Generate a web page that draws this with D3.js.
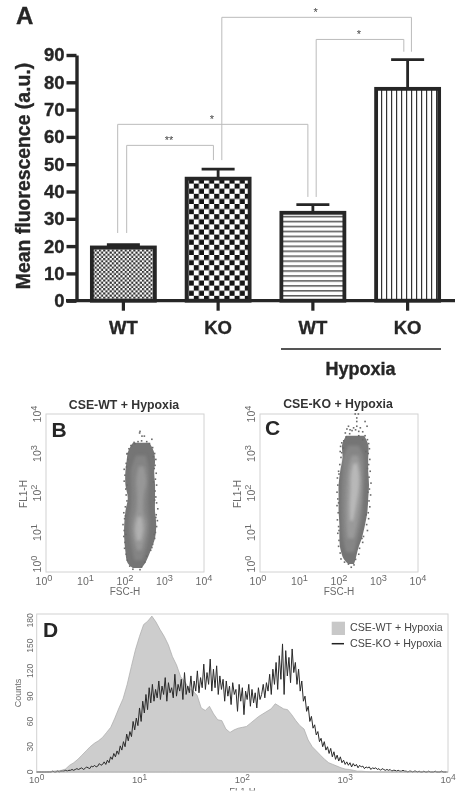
<!DOCTYPE html>
<html><head><meta charset="utf-8">
<style>html,body{margin:0;padding:0;background:#fff}svg{display:block;font-family:"Liberation Sans",Arial,sans-serif;filter:blur(.35px)}</style>
<script src="https://cdn.jsdelivr.net/npm/d3@7/dist/d3.min.js"></script></head><body>
<script>
// ---------- Panel A ----------
const barLabels=["WT","KO","WT","KO"];
const barValues=[19.5,44.7,32.2,77.6];
const barErrTop=[20.5,48.2,35.2,88.3];
const barPatterns=["fineCheck","bigCheck","hLines","vLines"];
const yTicksA=[0,10,20,30,40,50,60,70,80,90];
const bracketFrom=[0,0,1,2], bracketTo=[1,2,3,3];
const bracketFootL=[24.8,24.8,51.5,38], bracketFootR=[51.5,38,91.2,91.2];
const bracketTop=[56.9,64.6,103.8,95.7];
const bracketMark=["**","*","*","*"];
// ---------- Panels B, C : cloud outlines as exponents of FSC-H / FL1-H ----------
const decadeTicks=[0,1,2,3,4];
const bOuterY=[.1,.24,.52,.86,1.2,1.54,1.87,2.21,2.55,2.8,3.05,3.27];
const bOuterL=[2.2,2.06,2.01,1.98,1.98,2.01,2.07,2.01,2.01,2.04,2.08,2.2];
const bOuterR=[2.42,2.52,2.64,2.76,2.79,2.76,2.76,2.76,2.74,2.76,2.73,2.62];
const bMidY=[.3,.7,1.2,1.7,2.2,2.6,2.95];
const bMidL=[2.24,2.15,2.1,2.16,2.16,2.16,2.28];
const bMidR=[2.44,2.56,2.62,2.58,2.6,2.6,2.52];
const bCoreY=[.55,.95,1.25,1.55,1.95,2.3,2.68];
const bCoreL=[2.3,2.2,2.2,2.28,2.3,2.28,2.34];
const bCoreR=[2.42,2.52,2.54,2.47,2.48,2.54,2.48];
const bLightY=[.8,1.1,1.4];
const bLightL=[2.3,2.26,2.32];
const bLightR=[2.4,2.46,2.42];
const bSpeck=[[2.38,3.56],[2.37,3.52],[2.43,3.44],[2.49,3.44],[2.68,3.36],[2.23,3.28],[2.15,3.2],[2.05,2.99],[2.06,3.0],[2.1,3.12],[2.17,3.2],[2.25,3.25],[2.33,3.3],[2.42,3.32],[2.55,3.3],[2.62,3.25],[2.7,3.15],[2.75,3.0],[2.78,2.85],[2.76,2.7],[2.79,2.5],[2.77,2.35],[2.8,2.2],[2.76,2.05],[2.78,1.9],[2.8,1.75],[2.83,1.6],[2.79,1.45],[2.82,1.3],[2.8,1.15],[2.77,1.0],[2.75,.85],[2.7,.7],[2.65,.55],[2.55,.4],[2.5,.25],[2.42,.13],[2.38,.06],[2.2,.07],[2.12,.15],[2.06,.3],[2.03,.45],[1.99,.6],[2.0,.75],[1.97,.9],[1.98,1.05],[1.95,1.2],[1.99,1.35],[1.97,1.5],[2.01,1.65],[2.05,1.8],[2.03,1.95],[2.02,2.1],[1.98,2.3],[2.0,2.45],[1.98,2.6],[2.03,2.75],[2.07,2.85],[2.72,2.92],[2.74,2.62],[2.72,2.28],[2.75,1.82],[2.78,1.38],[2.74,.95],[2.68,.62],[2.02,.95],[2.01,1.42],[2.05,2.2],[2.04,2.66]];
const cOuterY=[.2,.33,.61,.86,1.2,1.54,1.87,2.21,2.55,2.89,3.22,3.45];
const cOuterL=[2.24,2.12,2.03,2.01,2.01,1.99,1.99,1.99,2.03,2.09,2.08,2.18];
const cOuterR=[2.38,2.42,2.49,2.58,2.66,2.72,2.74,2.76,2.74,2.74,2.74,2.64];
const cMidY=[.5,.9,1.4,2.0,2.5,2.9,3.2];
const cMidL=[2.18,2.1,2.07,2.07,2.09,2.12,2.24];
const cMidR=[2.38,2.48,2.58,2.62,2.64,2.62,2.5];
const cCoreY=[.85,1.3,1.8,2.3,2.67,2.95];
const cCoreL=[2.22,2.18,2.18,2.2,2.24,2.32];
const cCoreR=[2.38,2.48,2.55,2.57,2.55,2.48];
const cLightY=[1.3,1.7,2.1,2.45,2.75];
const cLightL=[2.28,2.27,2.29,2.3,2.36];
const cLightR=[2.36,2.44,2.5,2.51,2.46];
const cSpeck=[[2.41,4.0],[2.49,4.0],[2.45,3.9],[2.45,3.81],[2.45,3.69],[2.66,3.81],[2.71,3.69],[2.24,3.69],[2.28,3.6],[2.37,3.65],[2.54,3.65],[2.16,3.52],[2.07,3.27],[2.11,3.14],[2.2,3.62],[2.33,3.58],[2.42,3.6],[2.5,3.56],[2.6,3.55],[2.66,3.45],[2.72,3.35],[2.75,3.25],[2.77,3.12],[2.74,3.0],[2.78,2.85],[2.75,2.72],[2.79,2.55],[2.76,2.4],[2.81,2.25],[2.77,2.1],[2.8,1.95],[2.76,1.8],[2.78,1.65],[2.74,1.5],[2.75,1.35],[2.7,1.2],[2.72,1.05],[2.62,.9],[2.6,.75],[2.52,.6],[2.5,.45],[2.42,.32],[2.38,.18],[2.31,.12],[2.24,.2],[2.14,.25],[2.05,.33],[2.03,.48],[1.99,.65],[2.0,.8],[1.97,.98],[1.99,1.15],[1.96,1.32],[1.98,1.5],[1.95,1.68],[1.97,1.85],[1.95,2.02],[1.97,2.2],[1.96,2.38],[1.99,2.55],[2.02,2.72],[2.05,2.9],[2.03,3.05],[2.04,3.18],[2.12,3.32],[2.18,3.42],[2.27,3.5],[2.68,3.05],[2.72,2.62],[2.73,2.02],[2.69,1.45],[2.58,.85],[2.0,1.05],[1.99,1.75],[2.0,2.48],[2.07,3.02],[2.6,3.35],[2.5,3.45]];
// ---------- Panel D : counts per log channel ----------
const histStepWT=0.04, histStepKO=1/64;
const countsWT=[0,0,0,.5,1,1.5,2,3.5,8,11,15,20,25,30,34,37,41,47,53,64,76,87,104,125,145,161,175,179,185,178,169,161,151,137,127,113,107,100,96,91,76,73,78,69,62,61,51,47,50,52,53,54,58,62,66,69,72,75,81,78,75,74,68,61,55,51,38,30,25,20,15,11,9,7,5,3.5,3,2,1,1,.5,0,0,0,0,0,0,0,0,0,0,0,0,0,0,0,0,0,0,0,0];
const countsKO=[0,0,0,0,0,0,0,0,0,0,1,0,0,1,0,1,
1,1,2,1,2,2,3,2,3,4,3,4,5,3,4,6,
5,4,7,6,8,6,7,10,8,9,12,9,14,11,18,15,
22,18,25,21,31,26,36,30,45,37,48,42,60,50,64,55,
76,60,84,70,92,74,100,82,104,84,98,88,108,86,102,92,
112,84,106,94,100,88,116,90,104,96,110,86,118,92,102,94,
114,90,108,96,120,94,112,100,128,98,118,104,134,96,122,100,
126,92,114,98,110,84,108,90,102,80,106,92,98,72,104,84,
100,68,96,86,104,78,98,82,94,76,100,86,92,104,88,106,
96,116,92,122,104,130,98,138,110,152,92,144,114,136,106,146,
118,130,104,122,96,108,84,90,72,78,60,66,52,56,44,48,
36,40,30,36,26,30,22,28,18,24,15,20,13,18,11,14,
9,12,8,11,6,10,7,9,5,8,6,7,4,6,5,6,
3,5,4,5,3,4,2,4,3,2,3,2,3,1,2,2,
1,2,1,1,2,1,1,0,1,1,0,1,1,0,1,0,
0,1,0,0,1,0,0,0,1,0,0,0,1,0,0,0];
const countTicks=[0,30,60,90,120,150,180];
const legendLabels=["CSE-WT + Hypoxia","CSE-KO + Hypoxia"];

const W=469,H=803;
const svg=d3.select("body").append("svg").attr("width",W).attr("height",H).attr("viewBox",[0,0,W,H]);
const defs=svg.append("defs");
function check(id,c,col){const p=defs.append("pattern").attr("id",id).attr("patternUnits","userSpaceOnUse").attr("width",2*c).attr("height",2*c);
 p.append("rect").attr("width",2*c).attr("height",2*c).attr("fill","#fff");
 p.append("rect").attr("width",c).attr("height",c).attr("fill",col);
 p.append("rect").attr("x",c).attr("y",c).attr("width",c).attr("height",c).attr("fill",col);}
check("fineCheck",2.15,"#333");check("bigCheck",5.1,"#151515");
{const p=defs.append("pattern").attr("id","hLines").attr("patternUnits","userSpaceOnUse").attr("width",5).attr("height",4.95);
 p.append("rect").attr("width",5).attr("height",4.95).attr("fill","#fff");
 p.append("rect").attr("y",3).attr("width",5).attr("height",1.5).attr("fill","#555");
 const q=defs.append("pattern").attr("id","vLines").attr("patternUnits","userSpaceOnUse").attr("width",5).attr("height",5);
 q.append("rect").attr("width",5).attr("height",5).attr("fill","#fff");
 q.append("rect").attr("x",1).attr("width",1.2).attr("height",5).attr("fill","#333");}

// Panel A
const ink="#262626";
const heavy=t=>t.attr("stroke",ink).attr("stroke-width",.35);
const xA=d3.scaleBand().domain(d3.range(4)).range([76,455]).paddingInner(.335).paddingOuter(.1675);
const yA=d3.scaleLinear().domain([0,90]).range([300.7,55]);
const cx=i=>xA(i)+xA.bandwidth()/2;
const gA=svg.append("g");
const bracketOffsets=[[3.3,-4.7],[-5.7,-5],[3.7,3.8],[3.3,-3.8]];
bracketTop.forEach((t,k)=>{
 const l=cx(bracketFrom[k])+bracketOffsets[k][0], r=cx(bracketTo[k])+bracketOffsets[k][1];
 gA.append("path").attr("fill","none").attr("stroke","#bbb").attr("stroke-width",1)
  .attr("d",d3.line()([[l,yA(bracketFootL[k])],[l,yA(t)],[r,yA(t)],[r,yA(bracketFootR[k])]]));
 gA.append("text").attr("x",(l+r)/2-1).attr("y",yA(t)-1).attr("text-anchor","middle")
  .attr("font-size",11).attr("fill","#444").text(bracketMark[k]);
});
barValues.forEach((v,i)=>{
 gA.append("path").attr("stroke",ink).attr("stroke-width",2.8).attr("fill","none")
  .attr("d",`M${cx(i)},${yA(v)}V${yA(barErrTop[i])}M${cx(i)-16.5},${yA(barErrTop[i])}H${cx(i)+16.5}`);
 gA.append("rect").attr("x",xA(i)).attr("width",xA.bandwidth()).attr("y",yA(v)).attr("height",yA(0)-yA(v))
  .attr("fill",`url(#${barPatterns[i]})`).attr("stroke",ink).attr("stroke-width",3.8);
});
const axL=gA.append("g").attr("transform","translate(76.5,0)").call(d3.axisLeft(yA).tickValues(yTicksA).tickSize(10).tickSizeOuter(0).tickPadding(2));
axL.selectAll("path,line").attr("stroke",ink).attr("stroke-width",3.4);
axL.selectAll("text").attr("font-size",18.5).attr("font-weight","bold").attr("fill",ink).attr("font-family","inherit").call(heavy);
const axB=gA.append("g").attr("transform",`translate(0,${yA(0)})`).call(d3.axisBottom(xA).tickFormat(i=>barLabels[i]).tickSize(10).tickSizeOuter(0).tickPadding(10));
axB.select("path").remove();
axB.selectAll("line").attr("stroke",ink).attr("stroke-width",3.2);
axB.selectAll("text").attr("font-size",18.5).attr("font-weight","bold").attr("fill",ink).attr("font-family","inherit").call(heavy);
gA.append("path").attr("stroke",ink).attr("stroke-width",3.2).attr("d",`M66,${yA(0)}H455`);
gA.append("text").attr("transform","translate(29.5,176) rotate(-90)").attr("text-anchor","middle").attr("font-size",19.4).attr("font-weight","bold").attr("fill",ink).call(heavy).text("Mean fluorescence (a.u.)");
gA.append("text").attr("x",16).attr("y",24).attr("font-size",24).attr("font-weight","bold").attr("fill",ink).call(heavy).text("A");
gA.append("path").attr("stroke","#555").attr("stroke-width",1.8).attr("d","M281,349H441");
gA.append("text").attr("x",360.5).attr("y",375).attr("text-anchor","middle").attr("font-size",18).attr("font-weight","bold").attr("fill",ink).call(heavy).text("Hypoxia");

// shared helper
function power(t,e){t.text("10");t.append("tspan").attr("dy","-.4em").attr("font-size","88%").text(e);}
const grey="#6a6a6a";

function dotPanel(x0,title,titleY,letter,letterX,letterY,layers,speck){
 const x=d3.scaleLinear().domain([0,4]).range([x0,x0+158]);
 const y=d3.scaleLinear().domain([0,4]).range([572,414]);
 const g=svg.append("g");
 g.append("rect").attr("x",x0).attr("y",414).attr("width",158).attr("height",158).attr("fill","#fff").attr("stroke","#d2d2d2");
 const area=d3.area().curve(d3.curveCatmullRom).y(d=>y(d[0])).x0(d=>x(d[1])).x1(d=>x(d[2]));
 layers.forEach(l=>{
  g.append("path").attr("fill",l[3]).attr("style",`filter:blur(${l[4]}px)`)
   .attr("d",area(l[0].map((v,i)=>[v,l[1][i],l[2][i]])));
 });
 g.selectAll(null).data(speck).join("rect").attr("x",d=>x(d[0])-.8).attr("y",d=>y(d[1])-.8).attr("width",1.6).attr("height",1.6).attr("fill","#6a6a6a");
 decadeTicks.forEach(e=>{
  g.append("text").attr("x",x(e)-(e==0?2:0)).attr("y",585).attr("text-anchor","middle").attr("font-size",10.5).attr("fill",grey).call(power,e);
  g.append("text").attr("transform",`translate(${x0-5},${y(e)-(e==0?8:0)}) rotate(-90)`).attr("text-anchor","middle").attr("font-size",10.5).attr("fill",grey).call(power,e);
 });
 g.append("text").attr("x",x(2)).attr("y",595).attr("text-anchor","middle").attr("font-size",10).attr("fill",grey).text("FSC-H");
 g.append("text").attr("transform",`translate(${x0-19.5},494) rotate(-90)`).attr("text-anchor","middle").attr("font-size",10).attr("fill",grey).text("FL1-H");
 g.append("text").attr("x",x0+78).attr("y",titleY).attr("text-anchor","middle").attr("font-size",12.3).attr("font-weight","bold").attr("fill","#333").text(title);
 g.append("text").attr("x",letterX).attr("y",letterY).attr("font-size",21).attr("font-weight","bold").attr("fill",ink).text(letter);
}
dotPanel(46,"CSE-WT + Hypoxia",409,"B",51.5,436.5,[[bOuterY,bOuterL,bOuterR,"#757575",.5],[bMidY,bMidL,bMidR,"#848484",1.6],[bCoreY,bCoreL,bCoreR,"#979797",1.8],[bLightY,bLightL,bLightR,"#b0b0b0",1.6]],bSpeck);
dotPanel(260,"CSE-KO + Hypoxia",408,"C",265,435,[[cOuterY,cOuterL,cOuterR,"#757575",.5],[cMidY,cMidL,cMidR,"#868686",1.6],[cCoreY,cCoreL,cCoreR,"#9a9a9a",1.8],[cLightY,cLightL,cLightR,"#b8b8b8",1.6]],cSpeck);

// Panel D
const xD=d3.scaleLinear().domain([0,4]).range([36.7,448]);
const yD=d3.scaleLinear().domain([0,187.5]).range([772,614]);
const gD=svg.append("g");
gD.append("rect").attr("x",36.7).attr("y",614).attr("width",411.3).attr("height",158).attr("fill","#fff").attr("stroke","#d2d2d2");
gD.append("path").attr("fill","#cdcdcd").attr("stroke","#a9a9a9").attr("stroke-width",.7)
 .attr("d",d3.area().x((d,i)=>xD(i*histStepWT)).y0(yD(0)).y1(d=>yD(d))(countsWT));
gD.append("path").attr("fill","none").attr("stroke","#2a2a2a").attr("stroke-width",1)
 .attr("d",d3.line().x((d,i)=>xD(i*histStepKO)).y(d=>yD(d))(countsKO));
gD.append("path").attr("stroke","#bdbdbd").attr("d","M36.7,772H448");
decadeTicks.forEach(e=>gD.append("text").attr("x",xD(e)).attr("y",783).attr("text-anchor","middle").attr("font-size",9.5).attr("fill",grey).call(power,e));
countTicks.forEach(c=>gD.append("text").attr("transform",`translate(33,${yD(c)}) rotate(-90)`).attr("text-anchor","middle").attr("font-size",8.5).attr("fill",grey).text(c));
gD.append("text").attr("transform","translate(20.5,693) rotate(-90)").attr("text-anchor","middle").attr("font-size",9).attr("fill",grey).text("Counts");
defs.append("clipPath").attr("id","cut").append("rect").attr("x",200).attr("y",780).attr("width",80).attr("height",10.5);
gD.append("text").attr("clip-path","url(#cut)").attr("x",xD(2)).attr("y",794).attr("text-anchor","middle").attr("font-size",9.5).attr("fill",grey).text("FL1-H");
gD.append("text").attr("x",43).attr("y",636.7).attr("font-size",21).attr("font-weight","bold").attr("fill",ink).text("D");
gD.append("rect").attr("x",331.7).attr("y",621.7).attr("width",13.3).attr("height",13.3).attr("fill","#c8c8c8");
gD.append("path").attr("stroke","#222").attr("stroke-width",1.5).attr("d","M331.7,643.7H344");
legendLabels.forEach((t,i)=>gD.append("text").attr("x",350).attr("y",630.7+i*16).attr("font-size",10.7).attr("fill","#444").text(t));
</script></body></html>
